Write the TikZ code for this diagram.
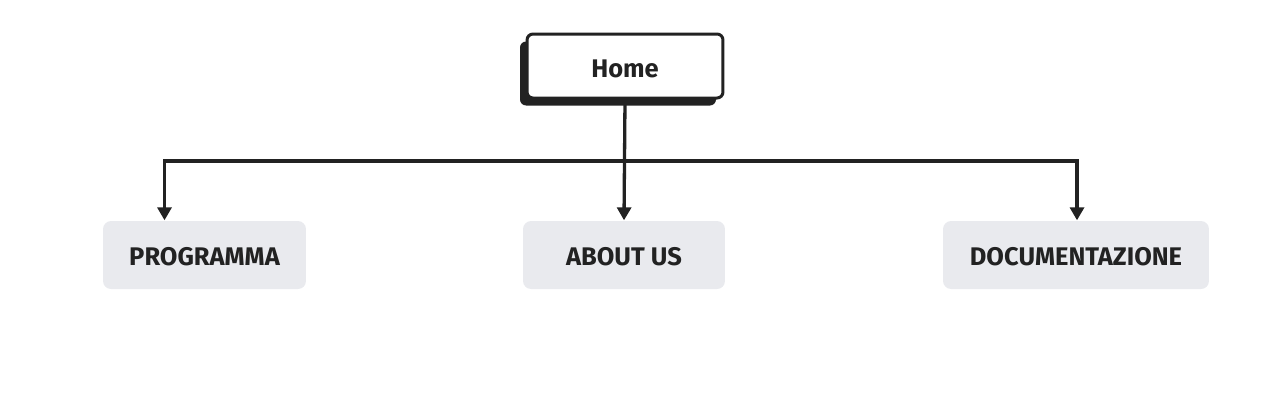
\documentclass[tikz,border=0pt]{standalone}
\usepackage{fontspec}
\setmainfont{Fira Sans}
\usetikzlibrary{positioning, arrows.meta, shadows}
\definecolor{ink}{HTML}{222222}
\definecolor{pale}{HTML}{E9EAEE}

\begin{document}
\begin{tikzpicture}[x=0.02cm, y=-0.02cm, thick,
  arr/.style={-{Triangle[width=0.28cm, length=0.26cm]}, line width=0.066cm, draw=ink},
  root/.style={rectangle, rounded corners=0.12cm, draw=ink, line width=0.06cm, fill=white,
    minimum width=3.92cm, minimum height=1.28cm, text=ink, font=\fontsize{14.5}{17}\selectfont\bfseries,
    text height=0.44cm, text depth=0cm,
    drop shadow={shadow xshift=-0.14cm, shadow yshift=-0.15cm, fill=ink, opacity=1}},
  page/.style={rectangle, rounded corners=0.16cm, fill=pale, minimum height=1.36cm,
    text height=0.40cm, text depth=0cm,
    text=ink, font=\fontsize{14.5}{17}\selectfont\bfseries}]
  \useasboundingbox (0,0) rectangle (1280,414);
  \node[root] (home) at (625,66) {Home};
  \node[page, minimum width=4.06cm] (prog) at (204.5,255) {PROGRAMMA};
  \node[page, minimum width=4.04cm] (about) at (624,255) {ABOUT US};
  \node[page, minimum width=5.32cm] (doc) at (1076,255) {DOCUMENTAZIONE};
  \coordinate (split) at (624,161);
  \draw[arr] (home.south) -- (about.north);
  \draw[arr] (split) -| ([xshift=-0.8cm]prog.north);
  \draw[arr] (split) -| ([xshift=0.02cm]doc.north);
\end{tikzpicture}
\end{document}
